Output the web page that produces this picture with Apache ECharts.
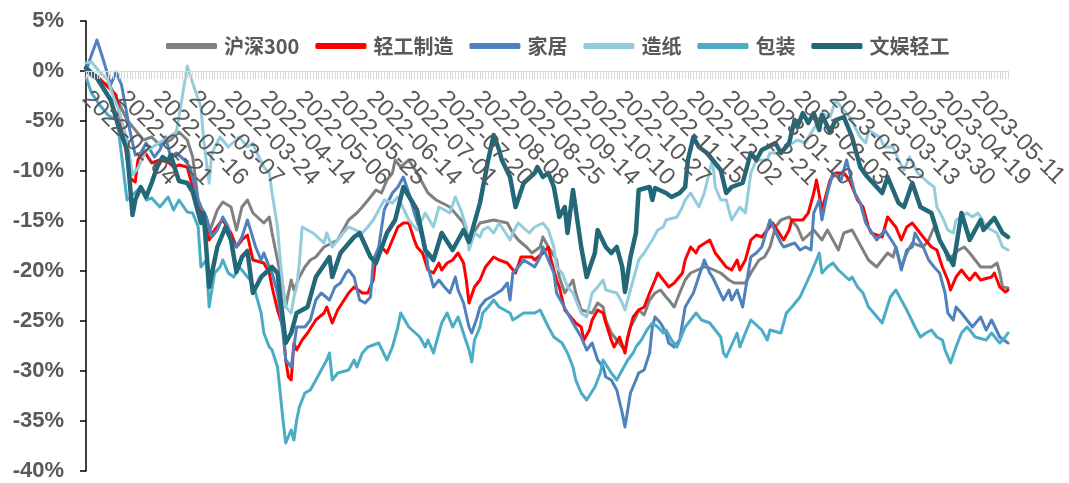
<!DOCTYPE html>
<html>
<head>
<meta charset="utf-8">
<script src="https://cdn.jsdelivr.net/npm/echarts@6/dist/echarts.min.js"></script>
<style>
  html, body { margin: 0; padding: 0; background: #ffffff; }
  #chart { width: 1069px; height: 483px; }
</style>
</head>
<body>
<div id="chart"></div>
<script>
// Trading calendar: weekdays from the first session, minus exchange holidays
const FIRST_DAY = '2022-01-04';
const DAY_COUNT = 338;
const MARKET_HOLIDAYS = [
  '2022-01-31', '2022-02-01', '2022-02-02', '2022-02-03', '2022-02-04',
  '2022-04-04', '2022-04-05', '2022-05-02', '2022-05-03', '2022-05-04',
  '2022-06-03', '2022-09-12', '2022-10-03', '2022-10-04', '2022-10-05',
  '2022-10-06', '2022-10-07', '2023-01-02', '2023-01-23', '2023-01-24',
  '2023-01-25', '2023-01-26', '2023-01-27', '2023-04-05', '2023-05-01',
  '2023-05-02', '2023-05-03'
];

const SERIES_NAMES = ['沪深300', '轻工制造', '家居', '造纸', '包装', '文娱轻工'];
const SERIES_COLORS = ['#808080', '#ff0000', '#4f81bd', '#93cddd', '#4bacc6', '#236878'];

// y-axis range (%)
const Y_MIN = -40;
const Y_MAX = 5;
const Y_STEP = 5;

// Cumulative return (%) by trading-day index: [dayIndex, value]
const HS300 = [
  [0,0],[2,-0.5],[5,-0.9],[9,-1.6],[12,-3.2],[15,-4.9],[18,-5.9],[21,-6.9],[24,-6.6],[27,-7.4],
  [31,-6.9],[34,-6.1],[37,-6.9],[39,-8.6],[41,-12.9],[43,-14.2],[45,-16.2],[48,-13.9],[50,-13.1],
  [53,-13.6],[55,-15.9],[57,-13.6],[59,-12.9],[61,-14.2],[65,-15.2],[67,-14.6],[68,-16.2],[70,-18.9],
  [72,-21.6],[73,-23.6],[74,-22.2],[75,-20.9],[76,-21.9],[78,-20.6],[80,-19.6],[82,-18.9],[84,-18.6],
  [87,-17.6],[92,-16.9],[94,-15.9],[96,-14.9],[99,-14.2],[101,-13.6],[104,-12.6],[106,-11.9],
  [108,-12.2],[110,-10.9],[112,-10.2],[113,-8.9],[115,-9.6],[118,-8.9],[121,-10.2],[123,-11.2],
  [125,-12.2],[128,-12.9],[133,-13.6],[138,-15.2],[140,-16.9],[144,-15.2],[149,-14.9],[154,-15.2],
  [156,-16.2],[158,-16.9],[161,-17.6],[163,-18.2],[166,-17.6],[167,-16.6],[169,-17.6],[172,-18.9],
  [173,-20.6],[175,-22.2],[178,-20.9],[179,-22.2],[181,-23.9],[185,-24.2],[187,-23.2],[189,-23.6],
  [190,-24.9],[192,-26.2],[194,-26.9],[196,-27.6],[197,-27.9],[199,-25.6],[201,-24.6],[202,-23.9],
  [204,-24.4],[206,-22.9],[208,-22.2],[210,-21.9],[212,-22.6],[213,-22.9],[215,-23.6],[217,-22.2],
  [219,-20.9],[221,-20.2],[226,-19.6],[227,-19.6],[232,-20.2],[235,-20.9],[237,-21.2],[241,-21.2],
  [243,-20.2],[246,-18.9],[248,-18.6],[250,-17.6],[252,-15.6],[254,-14.9],[257,-14.6],[260,-15.6],
  [262,-16.9],[266,-15.9],[269,-16.9],[271,-15.9],[273,-16.9],[275,-17.9],[277,-16.2],[280,-15.9],
  [282,-16.9],[286,-18.9],[289,-19.6],[291,-18.9],[293,-18.2],[295,-18.6],[296,-17.6],[298,-19.6],
  [300,-18.2],[302,-17.2],[306,-17.6],[308,-16.9],[310,-15.6],[312,-16.9],[314,-17.9],[315,-18.9],
  [319,-17.9],[321,-17.6],[323,-18.2],[325,-18.9],[327,-19.6],[331,-19.6],[333,-19.2],[334,-20.2],
  [335,-21.6],[337,-21.7]
];

const LIGHT_IND = [
  [0,0],[4,-0.5],[8,-1.6],[11,-2.4],[12,-3.9],[14,-6.9],[16,-10.7],[18,-11.1],[19,-8.9],[21,-7.9],
  [24,-9.2],[27,-8.9],[30,-9.1],[32,-9.6],[34,-9.4],[37,-9.6],[39,-11.6],[41,-13.2],[43,-14.9],
  [45,-16.9],[47,-15.9],[49,-15.2],[50,-14.9],[53,-16.2],[55,-17.6],[57,-16.9],[59,-16.4],[61,-18.9],
  [65,-19.2],[67,-20.2],[68,-21.6],[70,-23.9],[72,-25.6],[73,-28.9],[74,-30.6],[75,-30.9],[76,-27.2],
  [77,-27.9],[79,-26.9],[81,-26.2],[84,-24.9],[87,-24.2],[88,-23.6],[90,-25.2],[92,-23.9],[96,-22.2],
  [98,-21.6],[101,-22.2],[103,-22.2],[105,-20.9],[106,-18.6],[108,-17.6],[110,-18.2],[112,-16.9],
  [114,-15.6],[116,-15.2],[118,-15.2],[120,-16.9],[121,-17.6],[123,-18.2],[125,-19.9],[127,-20.2],
  [129,-19.2],[130,-19.9],[132,-19.2],[134,-18.9],[136,-18.2],[138,-19.2],[139,-20.9],[140,-23.2],
  [142,-21.6],[144,-20.9],[146,-19.6],[149,-18.6],[151,-18.9],[154,-19.2],[157,-20.2],[159,-18.6],
  [163,-18.6],[164,-18.9],[167,-18.2],[169,-17.6],[170,-18.9],[172,-20.9],[173,-21.6],[175,-23.9],
  [179,-25.2],[181,-25.6],[182,-26.9],[184,-25.9],[185,-24.9],[187,-23.9],[189,-24.2],[190,-25.2],
  [192,-26.9],[193,-27.6],[195,-26.6],[197,-28.2],[198,-26.6],[200,-24.6],[202,-23.9],[204,-23.6],
  [206,-22.2],[208,-20.9],[209,-20.2],[211,-20.9],[213,-21.6],[215,-21.2],[218,-20.2],[219,-18.9],
  [221,-17.6],[223,-18.2],[224,-17.6],[228,-16.9],[230,-18.2],[234,-19.6],[236,-19.9],[238,-18.9],
  [239,-19.9],[241,-18.9],[243,-16.9],[245,-16.4],[247,-16.6],[251,-15.2],[255,-16.9],[257,-15.9],
  [258,-14.9],[262,-14.9],[264,-14.2],[266,-12.2],[267,-10.9],[269,-13.9],[272,-10.9],[274,-10.2],
  [277,-10.2],[279,-10.9],[282,-12.9],[284,-13.6],[286,-15.6],[287,-16.2],[291,-16.6],[293,-14.6],
  [296,-15.6],[298,-16.9],[300,-15.6],[302,-15.2],[306,-16.6],[309,-17.6],[311,-17.9],[313,-19.6],
  [315,-20.9],[316,-21.9],[318,-20.6],[320,-19.9],[322,-20.6],[323,-20.9],[325,-20.2],[327,-20.9],
  [331,-20.6],[332,-20.2],[334,-21.6],[336,-22.1],[337,-21.9]
];

const HOME = [
  [0,0],[2,1.6],[4,3.1],[6,1.4],[8,-0.4],[9,-1.4],[11,-0.1],[13,-1.4],[14,-2.9],[16,-5.9],[18,-8.4],
  [20,-8.2],[22,-7.2],[25,-8.6],[27,-7.9],[29,-6.6],[31,-8.6],[33,-8.2],[36,-8.9],[38,-9.6],
  [41,-12.9],[42,-13.6],[44,-14.6],[46,-16.6],[48,-15.9],[50,-14.6],[52,-15.6],[53,-16.9],[55,-17.6],
  [57,-16.6],[59,-14.9],[62,-17.6],[64,-18.9],[65,-18.2],[67,-19.6],[68,-20.2],[70,-22.2],[72,-26.2],
  [73,-28.9],[75,-29.6],[76,-27.6],[77,-25.6],[80,-25.6],[82,-24.9],[84,-22.9],[86,-22.2],[89,-22.9],
  [91,-21.6],[93,-21.2],[95,-20.2],[96,-19.9],[98,-20.6],[100,-22.9],[102,-23.2],[104,-22.6],
  [105,-18.9],[107,-17.6],[109,-13.9],[112,-12.2],[114,-11.6],[116,-10.6],[118,-12.2],[120,-14.2],
  [124,-17.6],[125,-19.6],[127,-21.6],[129,-20.9],[131,-21.6],[133,-22.2],[135,-20.6],[136,-21.9],
  [138,-23.2],[140,-25.6],[141,-26.2],[143,-24.6],[144,-23.6],[146,-22.9],[148,-22.6],[152,-21.9],
  [154,-21.2],[155,-22.9],[156,-20.2],[158,-19.6],[160,-18.9],[164,-19.6],[166,-18.6],[167,-17.6],
  [171,-20.2],[172,-22.2],[176,-24.2],[178,-25.2],[181,-26.6],[183,-27.9],[185,-27.2],[187,-28.9],
  [189,-29.6],[190,-30.6],[192,-30.9],[194,-31.9],[196,-34.2],[197,-35.6],[199,-32.2],[201,-30.9],
  [202,-30.2],[204,-29.9],[206,-28.2],[207,-25.6],[208,-24.6],[210,-25.2],[212,-26.2],[213,-27.2],
  [215,-27.6],[217,-26.9],[219,-23.6],[222,-22.2],[226,-18.9],[228,-20.2],[229,-20.6],[233,-22.9],
  [235,-21.9],[236,-22.9],[238,-21.9],[240,-23.6],[243,-18.6],[245,-18.2],[247,-17.6],[250,-14.9],
  [254,-17.2],[255,-17.6],[259,-17.2],[261,-17.9],[263,-17.6],[265,-17.9],[266,-14.2],[268,-12.9],
  [269,-14.9],[271,-12.2],[273,-10.2],[276,-10.9],[278,-8.9],[281,-12.2],[283,-13.2],[285,-15.2],
  [289,-16.9],[292,-15.9],[296,-17.6],[298,-19.9],[300,-17.9],[302,-17.6],[303,-16.2],[306,-17.6],
  [308,-18.9],[310,-19.6],[312,-20.2],[314,-22.2],[315,-24.2],[317,-24.9],[318,-23.6],[320,-24.2],
  [322,-24.9],[324,-25.6],[327,-24.6],[329,-25.9],[331,-24.9],[334,-26.6],[337,-27.2]
];

const PAPER = [
  [0,0.8],[2,0.9],[5,-0.1],[8,-0.9],[10,-2.6],[12,-3.9],[15,-6.9],[17,-10.4],[19,-9.7],[22,-7.9],
  [24,-7.7],[27,-7.1],[30,-6.7],[33,-6.1],[35,-2.9],[37,0.5],[39,-1.2],[42,-3.6],[43,-6.9],[45,-11.2],
  [46,-8.2],[49,-6.6],[52,-7.6],[54,-7.1],[56,-6.6],[59,-7.6],[61,-7.2],[62,-7.9],[65,-9.6],[67,-10.2],
  [68,-12.2],[70,-15.6],[71,-18.9],[72,-21.6],[73,-23.6],[75,-24.2],[76,-22.6],[77,-21.6],[78,-19.2],
  [79,-15.6],[83,-16.2],[87,-17.2],[88,-16.2],[90,-17.6],[94,-16.2],[96,-15.6],[101,-16.2],[103,-15.6],
  [105,-14.9],[107,-13.9],[109,-12.9],[112,-13.2],[114,-12.6],[118,-14.9],[121,-15.9],[124,-14.2],
  [127,-15.6],[129,-13.6],[133,-14.2],[135,-12.6],[137,-13.9],[139,-15.6],[140,-17.9],[142,-16.2],
  [144,-16.6],[145,-15.9],[147,-15.6],[149,-16.2],[151,-15.2],[155,-16.9],[156,-16.2],[158,-15.2],
  [162,-16.2],[164,-15.6],[167,-15.2],[169,-15.9],[171,-17.6],[172,-19.6],[174,-20.2],[176,-21.6],
  [178,-22.2],[179,-22.9],[181,-24.2],[183,-24.6],[185,-22.2],[187,-21.6],[189,-20.9],[190,-21.9],
  [194,-22.2],[196,-23.2],[197,-23.9],[199,-21.9],[201,-19.9],[202,-18.9],[204,-18.2],[207,-16.9],
  [209,-15.9],[211,-15.6],[212,-14.9],[216,-14.6],[218,-13.6],[219,-12.9],[221,-12.2],[224,-13.6],
  [226,-12.2],[228,-9.9],[229,-8.9],[230,-11.6],[232,-12.9],[234,-12.9],[236,-14.9],[239,-13.6],
  [241,-14.2],[242,-12.2],[243,-10.2],[245,-8.9],[249,-8.9],[250,-8.2],[254,-8.2],[256,-7.6],
  [260,-6.9],[263,-7.2],[265,-6.2],[268,-4.9],[269,-4.2],[272,-4.6],[274,-2.9],[276,-3.6],[280,-4.9],
  [281,-5.6],[283,-6.6],[285,-7.2],[286,-5.9],[290,-6.6],[292,-7.6],[295,-7.6],[297,-8.9],[299,-9.9],
  [301,-8.6],[304,-10.2],[308,-11.2],[310,-11.6],[311,-13.6],[313,-14.6],[315,-15.9],[317,-16.2],
  [318,-14.9],[320,-14.6],[322,-14.2],[324,-14.6],[326,-14.2],[327,-14.6],[329,-15.6],[333,-16.2],
  [335,-17.6],[337,-17.9]
];

const PACKAGING = [
  [0,-0.6],[2,-2.2],[5,-3.4],[8,-4.4],[11,-4.9],[12,-6.2],[15,-12.9],[17,-12.4],[20,-11.6],[22,-12.9],
  [24,-12.7],[27,-13.6],[30,-12.6],[32,-13.9],[34,-12.9],[37,-14.1],[39,-14.2],[41,-15.6],[42,-19.6],
  [44,-18.9],[45,-23.6],[47,-20.2],[49,-19.6],[50,-18.9],[52,-20.2],[54,-20.6],[56,-19.6],[60,-20.9],
  [62,-22.2],[64,-24.2],[65,-26.2],[67,-27.6],[68,-27.9],[70,-29.6],[71,-32.2],[72,-34.9],[73,-37.2],
  [75,-35.9],[76,-36.9],[77,-34.9],[78,-33.6],[80,-32.2],[82,-31.9],[84,-30.9],[86,-29.9],[88,-28.9],
  [89,-28.2],[90,-30.9],[92,-30.2],[96,-29.9],[98,-28.9],[99,-29.6],[101,-28.2],[103,-27.6],
  [107,-27.2],[110,-28.9],[112,-27.6],[114,-25.6],[115,-24.2],[118,-25.6],[122,-26.6],[124,-27.6],
  [125,-26.9],[127,-28.2],[130,-25.2],[132,-24.2],[134,-25.6],[136,-24.6],[140,-27.9],[141,-29.1],
  [142,-26.9],[144,-25.6],[145,-24.2],[147,-23.6],[149,-22.9],[151,-23.6],[155,-24.2],[156,-24.9],
  [160,-24.2],[164,-24.2],[166,-23.9],[169,-25.6],[171,-26.6],[174,-27.2],[176,-28.2],[178,-29.6],
  [179,-30.9],[181,-32.2],[183,-32.9],[186,-31.6],[188,-30.2],[189,-28.9],[192,-30.2],[194,-30.9],
  [196,-29.9],[198,-28.9],[200,-28.2],[201,-27.6],[203,-26.9],[205,-25.9],[207,-25.2],[209,-25.6],
  [211,-26.2],[212,-25.9],[214,-26.9],[216,-27.6],[219,-25.6],[221,-24.9],[223,-24.2],[225,-24.9],
  [228,-25.2],[232,-26.6],[233,-28.2],[234,-28.6],[238,-26.2],[239,-27.6],[241,-26.2],[243,-24.9],
  [247,-25.9],[249,-26.9],[250,-25.9],[254,-26.2],[256,-24.2],[258,-23.6],[261,-22.6],[265,-20.2],
  [267,-18.9],[268,-18.2],[269,-20.2],[271,-19.6],[273,-19.2],[275,-19.9],[279,-20.9],[280,-20.6],
  [282,-21.6],[284,-22.2],[286,-23.6],[287,-23.9],[291,-25.2],[294,-22.6],[296,-21.9],[298,-22.9],
  [300,-23.9],[303,-25.6],[305,-26.6],[307,-26.2],[309,-25.9],[311,-26.6],[313,-26.9],[314,-27.9],
  [316,-29.2],[318,-27.6],[320,-26.2],[322,-25.6],[323,-25.9],[325,-26.6],[329,-26.9],[331,-26.2],
  [334,-27.2],[336,-26.6],[337,-26.2]
];

const LEISURE = [
  [0,0.3],[4,-0.7],[9,-2.9],[12,-5.6],[15,-7.9],[17,-14.4],[18,-12.9],[20,-11.6],[22,-12.6],[24,-11.2],
  [26,-9.6],[28,-8.6],[30,-9.0],[31,-8.4],[33,-10.2],[34,-11.0],[37,-11.2],[39,-12.1],[42,-15.2],
  [43,-14.2],[45,-21.6],[48,-17.6],[51,-15.6],[53,-16.9],[55,-20.1],[57,-18.6],[59,-18.0],[61,-22.2],
  [64,-20.6],[68,-19.6],[70,-20.2],[73,-27.2],[75,-26.2],[77,-24.2],[81,-23.6],[84,-20.6],[89,-18.6],
  [90,-20.6],[93,-18.2],[98,-16.6],[100,-16.2],[104,-18.6],[106,-19.2],[110,-16.2],[113,-14.9],
  [116,-11.6],[121,-13.9],[124,-17.9],[127,-18.9],[130,-16.2],[134,-17.9],[138,-15.9],[140,-17.1],
  [144,-13.2],[147,-8.9],[149,-6.4],[151,-7.9],[152,-8.9],[155,-10.6],[157,-13.6],[160,-11.2],
  [164,-10.2],[165,-9.6],[167,-10.6],[169,-10.2],[171,-11.6],[173,-14.6],[175,-13.6],[176,-16.2],
  [178,-11.9],[181,-17.6],[183,-20.6],[186,-18.2],[187,-15.9],[190,-17.6],[192,-18.2],[194,-17.6],
  [196,-19.6],[197,-22.1],[199,-18.6],[201,-16.2],[202,-11.9],[206,-11.6],[207,-12.9],[208,-11.7],
  [212,-12.2],[214,-12.6],[217,-12.2],[219,-11.6],[220,-8.9],[222,-6.6],[224,-7.6],[227,-8.2],
  [232,-9.9],[234,-12.2],[236,-11.6],[240,-11.2],[243,-8.2],[245,-8.9],[247,-7.9],[252,-7.2],
  [254,-8.2],[257,-7.2],[259,-4.9],[260,-5.6],[262,-4.2],[264,-5.2],[266,-4.2],[268,-5.9],[269,-4.4],
  [272,-6.1],[274,-4.9],[277,-4.6],[280,-6.6],[283,-9.6],[285,-10.4],[289,-11.6],[291,-12.2],
  [293,-10.6],[297,-13.2],[299,-13.6],[302,-11.2],[305,-13.6],[309,-14.2],[312,-16.9],[317,-19.4],
  [320,-14.2],[323,-16.9],[327,-14.9],[328,-15.9],[332,-14.7],[335,-16.2],[337,-16.6]
];

const SERIES_VALUES = [HS300, LIGHT_IND, HOME, PAPER, PACKAGING, LEISURE];

function tradingDays(first, count, holidays) {
  const out = [];
  const d = new Date(first + 'T00:00:00Z');
  while (out.length < count) {
    const wd = d.getUTCDay();
    const s = d.toISOString().slice(0, 10);
    if (wd !== 0 && wd !== 6 && holidays.indexOf(s) < 0) out.push(s);
    d.setUTCDate(d.getUTCDate() + 1);
  }
  return out;
}

const dates = tradingDays(FIRST_DAY, DAY_COUNT, MARKET_HOLIDAYS);
const GREY_TEXT = '#595959';

// Plot rectangle
const GRID = { left: 86, right: 61, top: 21, bottom: 12 };
const plotHeight = 483 - GRID.top - GRID.bottom;
// The date axis runs along the 0% line: shift it down from the top edge by the 0% position
const zeroOffset = -plotHeight * (Y_MAX - 0) / (Y_MAX - Y_MIN);

const chart = echarts.init(document.getElementById('chart'), null, { renderer: 'canvas' });

chart.setOption({
  animation: false,
  backgroundColor: '#ffffff',
  grid: Object.assign({ containLabel: false, outerBoundsMode: 'none' }, GRID),
  legend: {
    data: SERIES_NAMES,
    left: 161,
    top: 31,
    icon: 'roundRect',
    itemWidth: 51,
    itemHeight: 6,
    itemGap: 16,
    textStyle: {
      color: GREY_TEXT,
      fontSize: 20,
      fontWeight: 'bold',
      fontFamily: 'Noto Sans CJK SC',
      padding: [0, 0, 0, 2]
    }
  },
  xAxis: {
    type: 'category',
    data: dates,
    boundaryGap: false,
    position: 'top',
    offset: zeroOffset,
    z: 10,
    axisLine: { onZero: false, lineStyle: { color: '#d9d9d9', width: 1 } },
    axisTick: { show: true, inside: true, interval: 0, length: 8, lineStyle: { color: '#d9d9d9', width: 1 } },
    axisLabel: {
      inside: true,
      interval: 12,
      // on a top axis the sign is mirrored: this reads downward to the right
      rotate: 45,
      margin: 24,
      color: GREY_TEXT,
      fontSize: 24,
      fontFamily: 'Liberation Sans'
    },
    splitLine: { show: false }
  },
  yAxis: {
    type: 'value',
    min: Y_MIN,
    max: Y_MAX,
    interval: Y_STEP,
    axisLine: { show: true, lineStyle: { color: '#000000', width: 1.5 } },
    axisTick: { show: true, length: 6, lineStyle: { color: '#000000', width: 1.5 } },
    axisLabel: {
      formatter: '{value}%',
      margin: 22,
      color: GREY_TEXT,
      fontSize: 22,
      fontWeight: 'bold',
      fontFamily: 'Liberation Sans'
    },
    splitLine: { show: false }
  },
  series: SERIES_NAMES.map((name, i) => ({
    name: name,
    type: 'line',
    data: SERIES_VALUES[i],
    showSymbol: false,
    symbol: 'none',
    smooth: false,
    color: SERIES_COLORS[i],
    lineStyle: { width: i === 5 ? 4.5 : 3, color: SERIES_COLORS[i], join: 'round', cap: 'round' },
    z: 2 + i
  }))
});
</script>
</body>
</html>
